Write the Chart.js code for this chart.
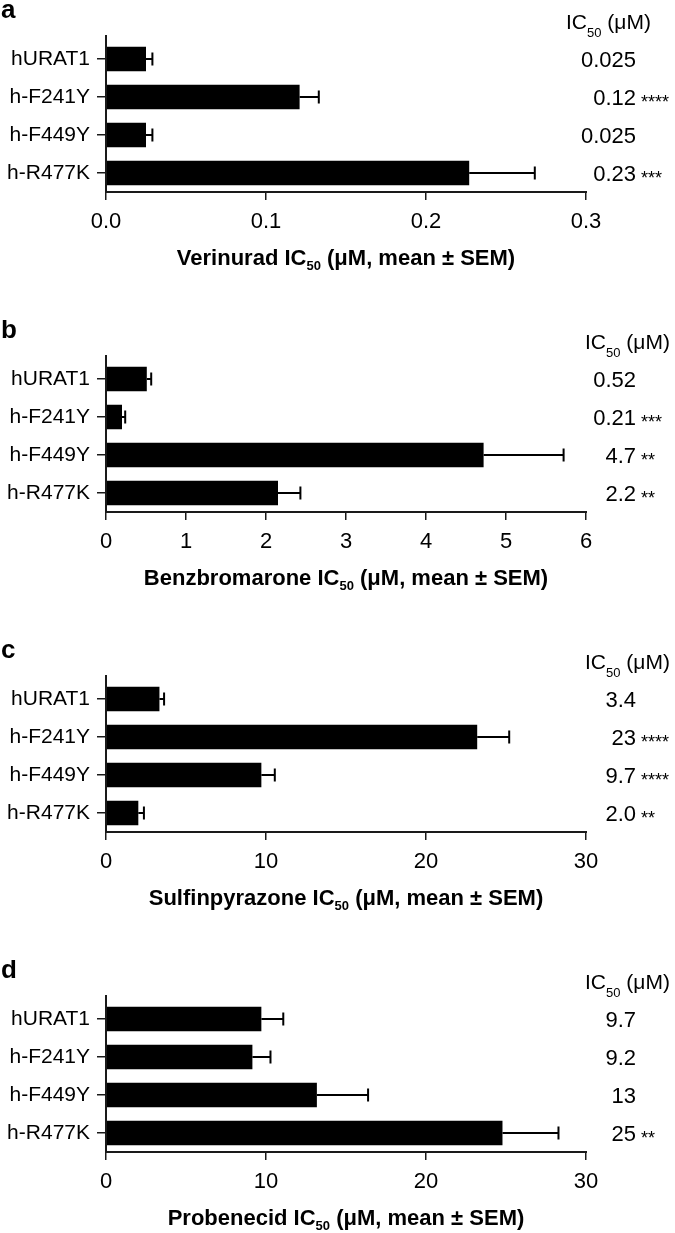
<!DOCTYPE html>
<html>
<head>
<meta charset="utf-8">
<script src="https://cdn.jsdelivr.net/npm/chart.js@4.4.1/dist/chart.umd.min.js"></script>
<style>
body{margin:0;background:#fff;width:675px;height:1233px;overflow:hidden}
canvas{display:block}
</style>
</head>
<body>
<canvas id="panelA" width="675" height="320"></canvas>
<canvas id="panelB" width="675" height="320"></canvas>
<canvas id="panelC" width="675" height="320"></canvas>
<canvas id="panelD" width="675" height="273"></canvas>
<script>
const categories = ["hURAT1", "h-F241Y", "h-F449Y", "h-R477K"];

// a: verinurad
const verinuradMean = [0.025, 0.121, 0.025, 0.227];
const verinuradSem = [0.004, 0.012, 0.004, 0.041];
const verinuradText = ["0.025", "0.12", "0.025", "0.23"];
const verinuradStars = ["", "****", "", "***"];
const verinuradTicks = [0, 0.1, 0.2, 0.3];
const verinuradTickLabels = ["0.0", "0.1", "0.2", "0.3"];

// b: benzbromarone
const benzMean = [0.51, 0.20, 4.72, 2.15];
const benzSem = [0.055, 0.04, 1.0, 0.28];
const benzText = ["0.52", "0.21", "4.7", "2.2"];
const benzStars = ["", "***", "**", "**"];
const benzTicks = [0, 1, 2, 3, 4, 5, 6];
const benzTickLabels = ["0", "1", "2", "3", "4", "5", "6"];

// c: sulfinpyrazone
const sulfMean = [3.34, 23.2, 9.71, 2.02];
const sulfSem = [0.29, 2.0, 0.84, 0.35];
const sulfText = ["3.4", "23", "9.7", "2.0"];
const sulfStars = ["", "****", "****", "**"];
const sulfTicks = [0, 10, 20, 30];
const sulfTickLabels = ["0", "10", "20", "30"];

// d: probenecid
const probMean = [9.71, 9.15, 13.18, 24.78];
const probSem = [1.37, 1.13, 3.2, 3.5];
const probText = ["9.7", "9.2", "13", "25"];
const probStars = ["", "", "", "**"];
const probTicks = [0, 10, 20, 30];
const probTickLabels = ["0", "10", "20", "30"];

const FONT = '"Liberation Sans", Arial, Helvetica, sans-serif';
Chart.defaults.font.family = FONT;
Chart.defaults.font.size = 21;
Chart.defaults.color = "#000";
Chart.defaults.animation = false;

// draw a run of text pieces (for the subscript 50)
function drawRuns(ctx, runs, x, y, align) {
    let total = 0;
    runs.forEach(r => {
        ctx.font = (r.bold ? "bold " : "") + r.size + "px " + FONT;
        r.w = ctx.measureText(r.t).width;
        total += r.w;
    });
    let cx = align === "center" ? x - total / 2 : x;
    ctx.textAlign = "left";
    ctx.textBaseline = "alphabetic";
    runs.forEach(r => {
        ctx.font = (r.bold ? "bold " : "") + r.size + "px " + FONT;
        ctx.fillText(r.t, cx, y + (r.dy || 0));
        cx += r.w;
    });
}

function makePanel(id, p) {
    const extras = {
        id: "extras",
        afterDatasetsDraw(chart) {
            const ctx = chart.ctx;
            const xs = chart.scales.x;
            const area = chart.chartArea;
            const bars = chart.getDatasetMeta(0).data;

            ctx.save();
            // error bars
            ctx.strokeStyle = "#000";
            ctx.lineWidth = 2;
            bars.forEach((bar, i) => {
                const x1 = xs.getPixelForValue(p.mean[i] + p.sem[i]);
                ctx.beginPath();
                ctx.moveTo(bar.x, bar.y);
                ctx.lineTo(x1, bar.y);
                ctx.moveTo(x1, bar.y - 6.5);
                ctx.lineTo(x1, bar.y + 6.5);
                ctx.stroke();
            });

            // axis lines
            ctx.strokeStyle = "#1a1a1a";
            ctx.lineWidth = 2;
            ctx.beginPath();
            ctx.moveTo(area.left, area.top - 5);
            ctx.lineTo(area.left, area.bottom);
            ctx.lineTo(area.right + 1, area.bottom);
            ctx.stroke();

            ctx.fillStyle = "#000";
            // IC50 values column
            bars.forEach((bar, i) => {
                ctx.font = "22px " + FONT;
                ctx.textAlign = "right";
                ctx.textBaseline = "alphabetic";
                ctx.fillText(p.text[i], 636, bar.y + 7.5);
                if (p.stars[i]) {
                    ctx.font = "18px " + FONT;
                    ctx.textAlign = "left";
                    ctx.fillText(p.stars[i], 641, bar.y + 11);
                }
            });

            // header
            drawRuns(ctx, [
                { t: "IC", size: 21 },
                { t: "50", size: 13, dy: 8 },
                { t: " (μM)", size: 21 }
            ], p.headerX, 29, "left");

            // x title
            drawRuns(ctx, [
                { t: p.drug + " IC", size: 22, bold: true },
                { t: "50", size: 13, bold: true, dy: 5 },
                { t: " (μM, mean ± SEM)", size: 22, bold: true }
            ], (area.left + area.right) / 2, 265, "center");

            // panel letter
            ctx.font = "bold 26px " + FONT;
            ctx.textAlign = "left";
            ctx.fillText(p.letter, 1, 18);
            ctx.restore();
        }
    };

    const H = document.getElementById(id).height;

    return new Chart(document.getElementById(id), {
        type: "bar",
        data: {
            labels: categories,
            datasets: [{
                data: p.mean,
                backgroundColor: "#000",
                borderWidth: 0,
                categoryPercentage: 1,
                barPercentage: 0.645
            }]
        },
        options: {
            indexAxis: "y",
            responsive: false,
            layout: { padding: { top: 40, right: 89, left: 0, bottom: 0 } },
            plugins: { legend: { display: false }, tooltip: { enabled: false } },
            scales: {
                x: {
                    min: p.ticks[0],
                    max: p.ticks[p.ticks.length - 1],
                    afterBuildTicks: s => { s.ticks = p.ticks.map(v => ({ value: v })); },
                    afterFit: s => { s.height = H - 192; },
                    grid: { drawOnChartArea: false, tickLength: 8, color: "#1a1a1a", lineWidth: 1.5 },
                    border: { display: false },
                    ticks: {
                        padding: 9,
                        font: { size: 22 },
                        callback: (v, i) => p.tickLabels[i]
                    }
                },
                y: {
                    afterFit: s => { s.width = 106; },
                    grid: { drawOnChartArea: false, offset: false, tickLength: 9, color: "#1a1a1a", lineWidth: 1.5 },
                    border: { display: false },
                    ticks: { padding: 7, font: { size: 21 } }
                }
            }
        },
        plugins: [extras]
    });
}

makePanel("panelA", { letter: "a", drug: "Verinurad", mean: verinuradMean, sem: verinuradSem,
    text: verinuradText, stars: verinuradStars, ticks: verinuradTicks, tickLabels: verinuradTickLabels, headerX: 566 });
makePanel("panelB", { letter: "b", drug: "Benzbromarone", mean: benzMean, sem: benzSem,
    text: benzText, stars: benzStars, ticks: benzTicks, tickLabels: benzTickLabels, headerX: 585 });
makePanel("panelC", { letter: "c", drug: "Sulfinpyrazone", mean: sulfMean, sem: sulfSem,
    text: sulfText, stars: sulfStars, ticks: sulfTicks, tickLabels: sulfTickLabels, headerX: 585 });
makePanel("panelD", { letter: "d", drug: "Probenecid", mean: probMean, sem: probSem,
    text: probText, stars: probStars, ticks: probTicks, tickLabels: probTickLabels, headerX: 585 });
</script>
</body>
</html>
